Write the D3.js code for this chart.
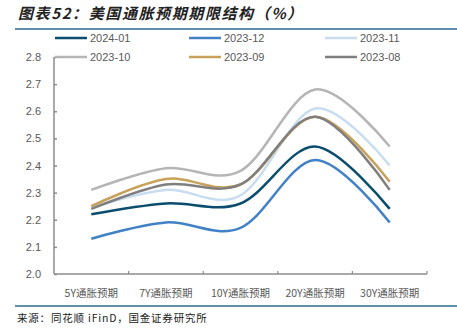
<!DOCTYPE html>
<html>
<head>
<meta charset="utf-8">
<script src="https://cdn.jsdelivr.net/npm/d3@7"></script>
<style>
  body { margin: 0; background: #fff; }
  svg { display: block; font-family: "Liberation Sans", Arial, "Noto Sans CJK SC", sans-serif; }
</style>
</head>
<body>
<svg width="457" height="333"></svg>
<script>
// tenors along the x axis
var tenors = ['5Y通胀预期', '7Y通胀预期', '10Y通胀预期', '20Y通胀预期', '30Y通胀预期'];
var months = ['2024-01', '2023-12', '2023-11', '2023-10', '2023-09', '2023-08'];
var colors = ['#0a4d6e', '#4182c6', '#c9ddf0', '#b5b5b5', '#c8a15a', '#7f7f7f'];

// breakeven inflation by tenor, %
var v202401 = [2.22, 2.26, 2.26, 2.47, 2.24];
var v202312 = [2.13, 2.19, 2.17, 2.42, 2.19];
var v202311 = [2.245, 2.31, 2.29, 2.61, 2.40];
var v202310 = [2.31, 2.39, 2.38, 2.68, 2.47];
var v202309 = [2.25, 2.35, 2.33, 2.58, 2.34];
var v202308 = [2.24, 2.33, 2.33, 2.58, 2.31];
var yTicks = [2.0, 2.1, 2.2, 2.3, 2.4, 2.5, 2.6, 2.7, 2.8];

// draw order: later ones end up on top
var series = [
  {name: '2023-10', values: v202310, color: colors[3]},
  {name: '2023-11', values: v202311, color: colors[2]},
  {name: '2023-12', values: v202312, color: colors[1]},
  {name: '2024-01', values: v202401, color: colors[0]},
  {name: '2023-09', values: v202309, color: colors[4]},
  {name: '2023-08', values: v202308, color: colors[5]}
];

var svg = d3.select('svg');
var plotL = 54, plotR = 427, plotT = 57, plotB = 274;

var x = d3.scaleBand().domain(tenors).range([plotL, plotR]);
var y = d3.scaleLinear().domain([2.0, 2.8]).range([plotB, plotT]);

// title and rules
svg.append('text')
    .attr('x', 18).attr('y', 19)
    .attr('font-size', 15)
    .attr('font-weight', 'bold')
    .attr('font-style', 'italic')
    .attr('letter-spacing', 1.6)
    .attr('font-family', '"Noto Sans CJK SC", sans-serif')
    .attr('fill', '#222')
    .text('图表52：美国通胀预期期限结构（%）');
svg.append('line')
    .attr('x1', 15).attr('x2', 457).attr('y1', 29).attr('y2', 29)
    .attr('stroke', '#2c6a8e').attr('stroke-width', 1.5);
svg.append('line')
    .attr('x1', 15).attr('x2', 457).attr('y1', 306).attr('y2', 306)
    .attr('stroke', '#2c6a8e').attr('stroke-width', 1.5);
svg.append('text')
    .attr('x', 17).attr('y', 322)
    .attr('font-size', 10.5)
    .attr('letter-spacing', 0.8)
    .attr('font-family', '"Noto Sans CJK SC", sans-serif')
    .attr('fill', '#222')
    .text('来源：同花顺 iFinD，国金证券研究所');

// axes
var yAxis = svg.append('g')
    .attr('transform', 'translate(' + plotL + ',0)')
    .call(d3.axisRight(y).tickValues(yTicks).tickSize(3).tickFormat(''));
yAxis.selectAll('line, path').attr('stroke', '#8c8c8c').attr('stroke-width', 1.5);
yAxis.select('.domain').attr('d', 'M0,' + plotT + 'V' + plotB);

svg.selectAll('.ylab')
    .data(yTicks)
    .enter()
    .append('text')
    .attr('class', 'ylab')
    .attr('x', 41)
    .attr('y', function(d) { return y(d) + 4; })
    .attr('text-anchor', 'end')
    .attr('font-size', 11)
    .attr('fill', '#595959')
    .text(function(d) { return d.toFixed(1); });

var xAxis = svg.append('g')
    .attr('transform', 'translate(0,' + plotB + ')');
xAxis.append('line')
    .attr('x1', plotL).attr('x2', plotR)
    .attr('stroke', '#8c8c8c').attr('stroke-width', 1.5);
xAxis.selectAll('.xtick')
    .data(tenors)
    .enter()
    .append('line')
    .attr('class', 'xtick')
    .attr('x1', function(d) { return x(d) + x.bandwidth(); })
    .attr('x2', function(d) { return x(d) + x.bandwidth(); })
    .attr('y1', 0).attr('y2', -3)
    .attr('stroke', '#8c8c8c').attr('stroke-width', 1.2);
xAxis.selectAll('.xlab')
    .data(tenors)
    .enter()
    .append('text')
    .attr('class', 'xlab')
    .attr('x', function(d) { return x(d) + x.bandwidth() / 2; })
    .attr('y', 23)
    .attr('text-anchor', 'middle')
    .attr('font-size', 10.5)
    .attr('font-family', '"Noto Sans CJK SC", sans-serif')
    .attr('fill', '#595959')
    .text(function(d) { return d; });

// smoothed lines
var line = d3.line()
    .x(function(d, i) { return x(tenors[i]) + x.bandwidth() / 2; })
    .y(function(d) { return y(d); })
    .curve(d3.curveCatmullRom.alpha(0));

svg.selectAll('.series')
    .data(series)
    .enter()
    .append('path')
    .attr('class', 'series')
    .attr('fill', 'none')
    .attr('stroke', function(d) { return d.color; })
    .attr('stroke-width', 2.5)
    .attr('d', function(d) { return line(d.values); });

// legend, 3 columns x 2 rows
var legX = [55, 189, 325];
var legY = [38, 57];
var legend = svg.selectAll('.legend')
    .data(months)
    .enter()
    .append('g')
    .attr('class', 'legend')
    .attr('transform', function(d, i) {
        return 'translate(' + [legX[i % 3], legY[Math.floor(i / 3)]] + ')';
    });
legend.append('rect')
    .attr('x', 0).attr('y', -1.5)
    .attr('width', 32).attr('height', 3)
    .attr('fill', '#fff');
legend.append('line')
    .attr('x1', 0).attr('x2', 32)
    .attr('stroke', function(d, i) { return colors[i]; })
    .attr('stroke-width', 2.5);
legend.append('text')
    .attr('x', 35).attr('y', 4)
    .attr('font-size', 11)
    .attr('fill', '#595959')
    .text(function(d) { return d; });
</script>
</body>
</html>
